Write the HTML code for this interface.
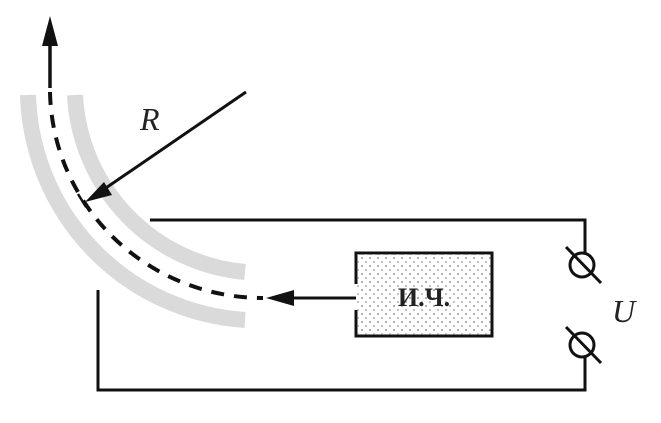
<!DOCTYPE html>
<html><head><style>body{margin:0;background:#fff}</style></head><body>
<svg width="661" height="418" viewBox="0 0 661 418" xmlns="http://www.w3.org/2000/svg">
<defs>
<pattern id="dots" width="8" height="8" patternUnits="userSpaceOnUse">
<circle cx="2" cy="2" r="0.9" fill="#777"/><circle cx="6" cy="6" r="0.9" fill="#999"/>
</pattern>
</defs>
<g fill="none" stroke="#dadada" stroke-width="16">
<path d="M75 95 A187 187 0 0 0 245 272"/>
<path d="M28 95 A232 232 0 0 0 245 320"/>
</g>
<path d="M50 92 A213 210 0 0 0 263 298" fill="none" stroke="#111" stroke-width="4" stroke-dasharray="13 10"/>
<line x1="50" y1="88" x2="50" y2="40" stroke="#111" stroke-width="3.5"/>
<polygon points="50,16 42,46 58,46" fill="#111"/>
<line x1="246" y1="92" x2="100" y2="192" stroke="#111" stroke-width="3"/>
<polygon points="85,202 104,182 112,195" fill="#111"/>
<line x1="78" y1="194" x2="86" y2="207" stroke="#111" stroke-width="2.5"/>
<text x="140" y="130" font-family="Liberation Serif,serif" font-style="italic" font-size="32" fill="#222">R</text>
<g stroke="#111" stroke-width="3" fill="none">
<polyline points="150,220 585,220 585,253"/>
<polyline points="98,290 98,390 585,390 585,357"/>
<circle cx="582" cy="265" r="12"/>
<circle cx="582" cy="345" r="12"/>
<line x1="566" y1="247" x2="601" y2="283"/>
<line x1="566" y1="327" x2="601" y2="363"/>
<line x1="290" y1="298" x2="356" y2="298"/>
<path d="M356 284 V253 H492 V336 H356 V310"/>
</g>
<rect x="357" y="254" width="134" height="81" fill="url(#dots)"/>
<polygon points="266,298 294,290 294,306" fill="#111"/>
<text x="424" y="306" text-anchor="middle" font-family="Liberation Serif,serif" font-weight="bold" font-size="26" fill="#222">И.Ч.</text>
<text x="612" y="322" font-family="Liberation Serif,serif" font-style="italic" font-size="32" fill="#222">U</text>
</svg>
</body></html>
